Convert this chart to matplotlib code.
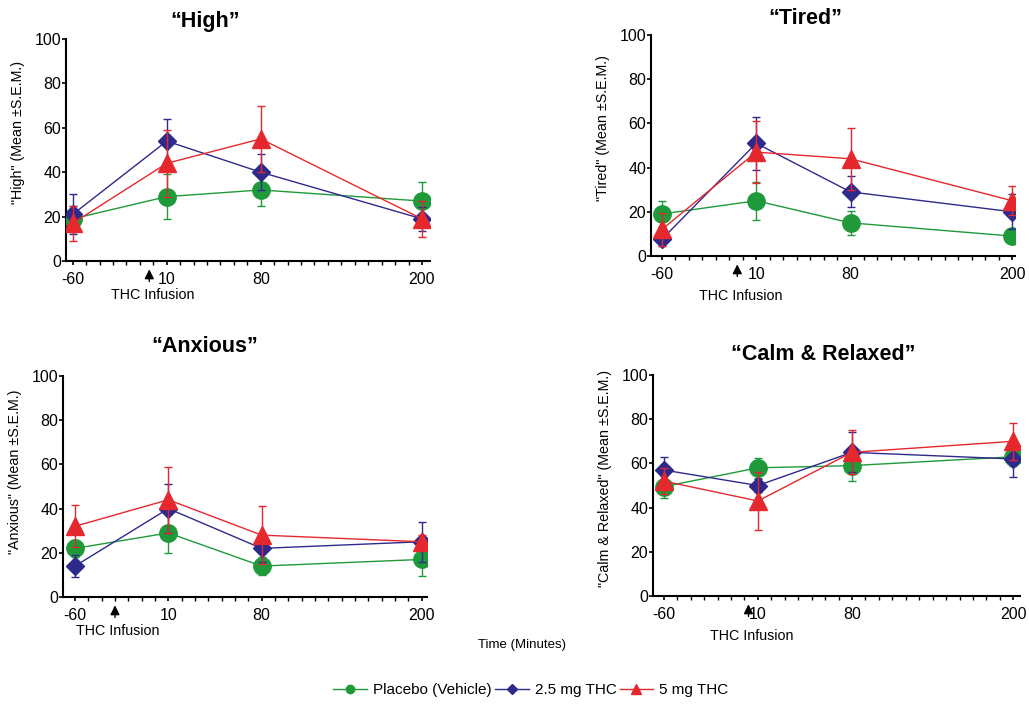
import matplotlib
matplotlib.use("Agg")
import matplotlib.pyplot as plt
from matplotlib.lines import Line2D

plt.rcParams['font.family'] = ['Liberation Sans', 'DejaVu Sans']

times = [-60, 10, 80, 200]
tick_labels = ["-60", "10", "80", "200"]
series_names = ["Placebo (Vehicle)", "2.5 mg THC", "5 mg THC"]

high_placebo = [19, 29, 32, 27]
high_placebo_err = [6, 10, 7, 8.5]
high_25 = [21, 54, 40, 19]
high_25_err = [9, 10, 8, 5.5]
high_5 = [17, 44, 55, 19]
high_5_err = [8, 15, 15, 8]

tired_placebo = [19, 25, 15, 9]
tired_placebo_err = [6, 8.5, 5.5, 3]
tired_25 = [7.5, 51, 29, 20]
tired_25_err = [3, 12, 7, 8]
tired_5 = [12, 47, 44, 25]
tired_5_err = [7.5, 14, 14, 6.5]

anx_placebo = [22, 29, 14, 17]
anx_placebo_err = [4, 9, 4, 7.5]
anx_25 = [14, 40, 22, 25]
anx_25_err = [5, 11, 6, 9]
anx_5 = [32, 44, 28, 25]
anx_5_err = [9.5, 15, 13, 3]

calm_placebo = [49.5, 58, 59, 63]
calm_placebo_err = [5, 4.5, 7, 4]
calm_25 = [57, 50, 65, 62]
calm_25_err = [6, 3, 9, 8]
calm_5 = [52, 43, 65, 70]
calm_5_err = [6, 13, 10, 8.5]

colors = ["#1f9a3a", "#2e2a8c", "#e5282d"]
markers = ["o", "D", "^"]
msizes = [12.5, 9.5, 12.5]

W, H = 1029, 704
fig = plt.figure(figsize=(W / 100, H / 100), dpi=100)

def px_axes(l, r, t, b):
    return fig.add_axes([l / W, 1 - b / H, (r - l) / W, (b - t) / H])

panels = [
    dict(box=(66, 430, 39, 261), xlim=(-65, 206), title="\u201cHigh\u201d", tpos=(205, 22),
         ylabel='"High" (Mean \u00b1S.E.M.)', ly=0.58, arrow_x=-3, text_y=295,
         data=[(high_placebo, high_placebo_err), (high_25, high_25_err), (high_5, high_5_err)]),
    dict(box=(651, 1015, 35, 256), xlim=(-68, 202), title="\u201cTired\u201d", tpos=(805, 18),
         ylabel='"Tired" (Mean \u00b1S.E.M.)', ly=0.58, arrow_x=-4, text_y=296,
         data=[(tired_placebo, tired_placebo_err), (tired_25, tired_25_err), (tired_5, tired_5_err)]),
    dict(box=(63, 427, 376, 597), xlim=(-69, 204), title="\u201cAnxious\u201d", tpos=(205, 347),
         ylabel='"Anxious" (Mean \u00b1S.E.M.)', ly=0.566, arrow_x=-30, text_y=631,
         data=[(anx_placebo, anx_placebo_err), (anx_25, anx_25_err), (anx_5, anx_5_err)]),
    dict(box=(653, 1020, 375, 596), xlim=(-68, 205), title="\u201cCalm & Relaxed\u201d", tpos=(823, 355),
         ylabel='"Calm & Relaxed" (Mean \u00b1S.E.M.)', ly=0.534, arrow_x=3, text_y=636,
         data=[(calm_placebo, calm_placebo_err), (calm_25, calm_25_err), (calm_5, calm_5_err)]),
]

for p in panels:
    l, r, t, b = p["box"]
    ax = px_axes(l, r, t, b)
    for i, (vals, errs) in enumerate(p["data"]):
        ax.errorbar(times, vals, yerr=errs, color=colors[i], marker=markers[i],
                    markersize=msizes[i], lw=1.0, elinewidth=1.0, capsize=3,
                    capthick=1.0, zorder=3 + i)
    ax.set_xlim(*p["xlim"])
    ax.set_ylim(0, 100)
    ax.set_xticks(times)
    ax.set_xticklabels(tick_labels)
    ax.set_xticks(list(range(-60, 201, 10)), minor=True)
    ax.set_yticks([0, 20, 40, 60, 80, 100])
    ax.tick_params(axis="both", which="major", direction="out", length=3, width=1.2,
                   labelsize=11.5)
    ax.tick_params(axis="y", which="major", pad=0.5)
    ax.tick_params(axis="x", which="minor", direction="out", length=3, width=1.0)
    ax.tick_params(axis="x", which="major", pad=5)
    for s in ["top", "right"]:
        ax.spines[s].set_visible(False)
    for s in ["left", "bottom"]:
        ax.spines[s].set_linewidth(1.5)
    ax.set_ylabel(p["ylabel"], fontsize=10.3, labelpad=2)
    ax.yaxis.set_label_coords(-0.112, p["ly"])
    ax.patch.set_alpha(0)
    fig.text(p["tpos"][0] / W, 1 - p["tpos"][1] / H, p["title"], fontsize=15.5,
             fontweight="bold", ha="center", va="center")
    # THC infusion arrow and label
    ax.annotate("", xy=(p["arrow_x"], -0.025), xycoords=ax.get_xaxis_transform(),
                xytext=(p["arrow_x"], -0.105), textcoords=ax.get_xaxis_transform(),
                arrowprops=dict(arrowstyle="-|>", color="black", lw=1.0, mutation_scale=14),
                annotation_clip=False)
    tx = ax.transData.transform((p["arrow_x"], 0))[0]
    fig.text(tx / W + 3 / W, 1 - p["text_y"] / H, "THC Infusion", fontsize=10.3,
             ha="center", va="center")

fig.text(522 / W, 1 - 645 / H, "Time (Minutes)", fontsize=9.5, ha="center", va="center")

handles = [Line2D([0], [0], color=colors[i], marker=markers[i], markersize=[6, 5, 7][i], lw=1.0)
           for i in range(3)]
fig.legend(handles, series_names, loc="center", bbox_to_anchor=(531 / W, 1 - 690 / H),
           ncol=3, frameon=False, fontsize=11, handlelength=2.2, columnspacing=0.2,
           handletextpad=0.4)

fig.savefig("out.png", dpi=100)
